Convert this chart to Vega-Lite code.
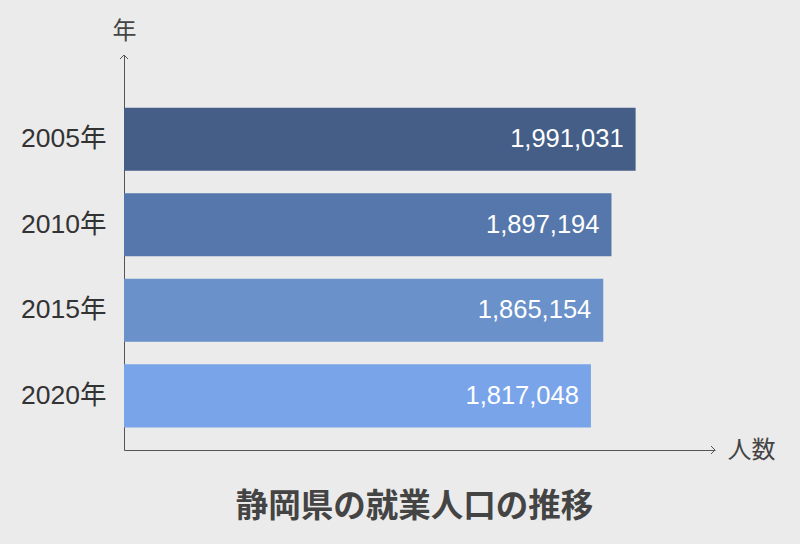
{
  "$schema": "https://vega.github.io/schema/vega-lite/v6.json",
  "width": 591,
  "height": 395,
  "autosize": {"type": "none"},
  "padding": {"left": 124, "top": 55, "right": 85, "bottom": 94},
  "background": "#ebebeb",
  "config": {"view": {"stroke": null}, "font": "Liberation Sans, Noto Sans CJK JP"},
  "title": {
    "text": "静岡県の就業人口の推移",
    "orient": "bottom",
    "anchor": "middle",
    "frame": "group",
    "font": "Noto Sans CJK JP",
    "fontSize": 32.5,
    "fontWeight": "bold",
    "color": "#444444",
    "offset": 29,
    "dx": -5
  },
  "data": {
    "values": [
      {"year": "2005年", "people": 1991031},
      {"year": "2010年", "people": 1897194},
      {"year": "2015年", "people": 1865154},
      {"year": "2020年", "people": 1817048}
    ]
  },
  "layer": [
    {
      "mark": {"type": "bar"},
      "encoding": {
        "y": {
          "field": "year",
          "type": "nominal",
          "sort": null,
          "scale": {"paddingInner": 0.263, "paddingOuter": 0.44, "align": 0.7},
          "axis": {
            "title": "年",
            "titleAngle": 0,
            "titleX": 0,
            "titleY": -24,
            "titleAlign": "center",
            "titleBaseline": "middle",
            "titleFont": "Noto Sans CJK JP",
            "titleFontSize": 24,
            "titleFontWeight": "normal",
            "titleColor": "#444444",
            "labelFont": "Liberation Sans, Noto Sans CJK JP",
            "labelFontSize": 26.5,
            "labelColor": "#333333",
            "labelPadding": 18,
            "ticks": false,
            "domainColor": "#555555",
            "domainWidth": 1
          }
        },
        "x": {
          "field": "people",
          "type": "quantitative",
          "scale": {"domain": [0, 2300000], "nice": false},
          "axis": {
            "title": "人数",
            "titleX": 603,
            "titleY": 0,
            "titleAlign": "left",
            "titleBaseline": "middle",
            "titleFont": "Noto Sans CJK JP",
            "titleFontSize": 24,
            "titleFontWeight": "normal",
            "titleColor": "#444444",
            "labels": false,
            "ticks": false,
            "grid": false,
            "domainColor": "#555555",
            "domainWidth": 1
          }
        },
        "color": {
          "field": "year",
          "type": "nominal",
          "scale": {
            "domain": ["2005年", "2010年", "2015年", "2020年"],
            "range": ["#445e88", "#5677ab", "#6a91c9", "#7aa4ea"]
          },
          "legend": null
        }
      }
    },
    {
      "mark": {"type": "text", "align": "right", "baseline": "middle", "dx": -12, "color": "#ffffff", "fontSize": 25.5, "font": "Liberation Sans"},
      "encoding": {
        "y": {"field": "year", "type": "nominal", "sort": null},
        "x": {"field": "people", "type": "quantitative"},
        "text": {"field": "people", "type": "quantitative", "format": ","}
      }
    },
    {
      "data": {"values": [{"a": 1}]},
      "mark": {"type": "point", "shape": "M-1,-1L0,0L-1,1", "size": 64, "filled": false, "stroke": "#555555", "strokeWidth": 1, "opacity": 1},
      "encoding": {
        "x": {"datum": 2300000, "type": "quantitative"},
        "y": {"value": "height"}
      }
    },
    {
      "data": {"values": [{"a": 1}]},
      "mark": {"type": "point", "shape": "M-1,1L0,0L1,1", "size": 64, "filled": false, "stroke": "#555555", "strokeWidth": 1, "opacity": 1},
      "encoding": {
        "x": {"datum": 0, "type": "quantitative"},
        "y": {"value": 0}
      }
    }
  ]
}
